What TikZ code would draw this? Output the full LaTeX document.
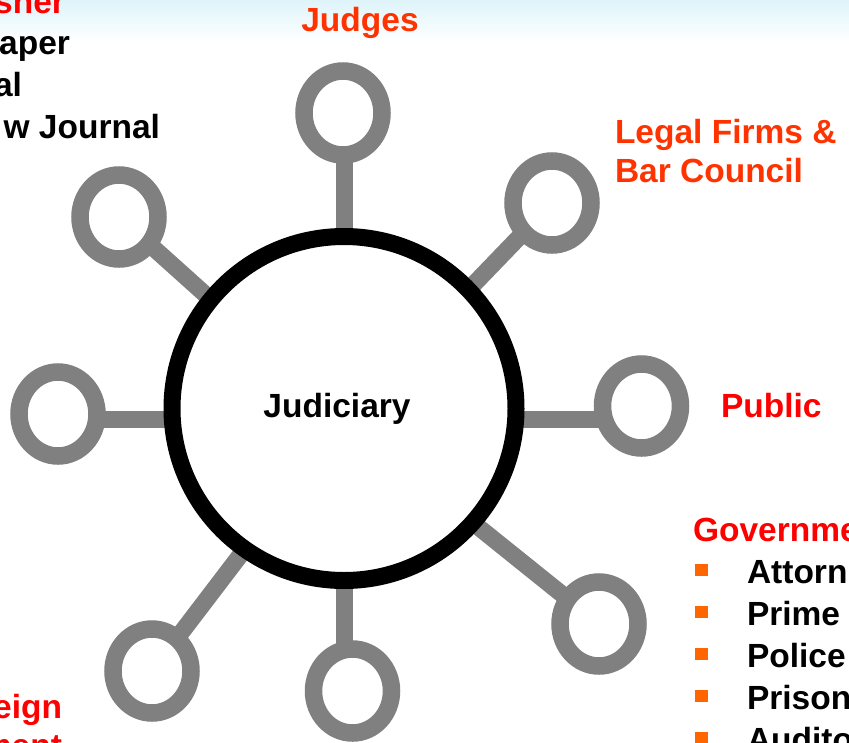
\documentclass[tikz,border=0pt]{standalone}
\usepackage{fontspec}
\setmainfont{Liberation Sans}
\usetikzlibrary{shapes.geometric,backgrounds}
\definecolor{ringgray}{HTML}{808080}
\definecolor{orred}{HTML}{FF3300}
\definecolor{pured}{HTML}{FF0000}
\definecolor{bulletor}{HTML}{FF6600}
\definecolor{skytop}{RGB}{222,244,250}
\tikzset{
  lbl/.style={font=\bfseries\fontsize{33.5}{40}\selectfont, inner sep=0pt, outer sep=0pt},
  ring/.style={ellipse, draw=ringgray, line width=17.5pt, fill=white, minimum width=78pt, minimum height=84pt, inner sep=0pt},
  hubring/.style={circle, draw=black, line width=17pt, fill=white, minimum size=344pt, inner sep=0pt},
  stem/.style={draw=ringgray, line width=17pt},
  sqbullet/.style={rectangle, fill=bulletor, draw=none, minimum size=12.5pt, inner sep=0pt}
}
\begin{document}
\begin{tikzpicture}[x=1pt,y=-1pt]
\useasboundingbox (0,0) rectangle (849,742);
\coordinate (hub) at (344,419);
% small circles
\node[ring] (s1) at (343,113) {};
\node[ring] (s2) at (552,203) {};
\node[ring] (s3) at (641.5,406) {};
\node[ring] (s4) at (599,624) {};
\node[ring] (s5) at (352.5,691) {};
\node[ring] (s6) at (152,671) {};
\node[ring] (s7) at (58,414) {};
\node[ring] (s8) at (119,217) {};
\node[hubring] (m) at (344,408.5) {};
\begin{scope}[on background layer]
  \shade[top color=skytop, bottom color=white] (0,0) rectangle (849,42);
  \draw[stem] (hub) -- (hub |- s1.center);
  \draw[stem] (hub) -- (s2.center);
  \draw[stem] (hub) -- (s3.center |- hub);
  \draw[stem] (hub) -- (s4.center);
  \draw[stem] (hub) -- (hub |- s5.center);
  \draw[stem] (hub) -- (s6.center);
  \draw[stem] (hub) -- (s7.center |- hub);
  \draw[stem] (hub) -- (s8.center);
\end{scope}
% labels
\node[lbl, anchor=base] (tjud) at (337,417) {Judiciary};
\node[lbl, text=orred, anchor=base] (tjudges) at (360,31) {Judges};
\node[lbl, text=orred, anchor=base west] (tlegal1) at (615,143) {Legal Firms \&};
\node[lbl, text=orred, anchor=base west] (tlegal2) at (615,182) {Bar Council};
\node[lbl, text=pured, anchor=base west] (tpublic) at (721,417) {Public};
% government list
\node[lbl, text=pured, anchor=base west] (tgov) at (693,541) {Governme};
\node[lbl, anchor=base west] (g1) at (747,583) {Attorn};
\node[lbl, anchor=base west] (g2) at (747,625) {Prime};
\node[lbl, anchor=base west] (g3) at (747,667) {Police};
\node[lbl, anchor=base west] (g4) at (747,709) {Prison};
\node[lbl, anchor=base west] (g5) at (747,751) {Audito};
\node[sqbullet] (b1) at (701.5,570) {};
\node[sqbullet] (b2) at (701.5,612) {};
\node[sqbullet] (b3) at (701.5,654) {};
\node[sqbullet] (b4) at (701.5,696) {};
\node[sqbullet] (b5) at (701.5,738) {};
% top-left list
\node[lbl, text=pured, anchor=base east] (tpub) at (65,13) {sher};
\node[lbl, anchor=base east] (p1) at (70,54) {aper};
\node[lbl, anchor=base east] (p2) at (22,96) {al};
\node[lbl, anchor=base east] (p3) at (160,138) {w Journal};
% bottom-left
\node[lbl, text=pured, anchor=base east] (tfor1) at (62,718) {eign};
\node[lbl, text=pured, anchor=base east] (tfor2) at (62,757) {ment};
\end{tikzpicture}
\end{document}
